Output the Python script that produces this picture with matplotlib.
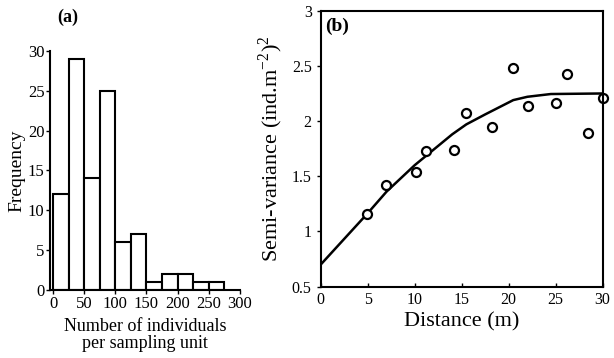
import numpy as np
import matplotlib.pyplot as plt

plt.rcParams['font.family'] = ['Liberation Serif', 'DejaVu Serif']
plt.rcParams['mathtext.fontset'] = 'custom'
plt.rcParams['mathtext.rm'] = 'Liberation Serif'

# (a) histogram: bins of 25 individuals
bin_left = [0, 25, 50, 75, 100, 125, 150, 175, 200, 225, 250]
freq = [12, 29, 14, 25, 6, 7, 1, 2, 2, 1, 1]
bin_width = 25

# (b) semivariogram points
dist = [4.9, 7.0, 10.1, 11.2, 14.2, 15.5, 18.2, 20.5, 22.1, 25.1, 26.2, 28.5, 30.0]
semivar = [1.16, 1.42, 1.54, 1.73, 1.74, 2.07, 1.95, 2.48, 2.14, 2.16, 2.43, 1.89, 2.21]

# fitted model line
fit_x = [0, 5, 7, 10, 12, 14, 15.5, 17.5, 20.5, 22, 24.5, 30]
fit_y = [0.70, 1.165, 1.36, 1.60, 1.74, 1.88, 1.97, 2.06, 2.19, 2.22, 2.245, 2.25]

fig = plt.figure(figsize=(6.14, 3.58), dpi=100)

ax1 = fig.add_axes([0.0814, 0.19, 0.309, 0.6676])
ax1.bar(bin_left, freq, width=bin_width, align='edge',
        color='white', edgecolor='black', linewidth=1.5)
ax1.set_xlim(-5, 300)
ax1.set_ylim(0, 30)
ax1.set_xticks([0, 50, 100, 150, 200, 250, 300])
ax1.set_yticks([0, 5, 10, 15, 20, 25, 30])
for s in ['top', 'right']:
    ax1.spines[s].set_visible(False)
for s in ['left', 'bottom']:
    ax1.spines[s].set_linewidth(1.5)
ax1.tick_params(axis='both', labelsize=12, length=3, width=1, pad=1)
ax1.set_ylabel('Frequency', fontsize=14, labelpad=2)
ax1.set_xlabel('Number of individuals\nper sampling unit', fontsize=13,
               labelpad=5, linespacing=1.0)
fig.text(0.111, 0.975, '(a)', fontsize=13, fontweight='bold', va='top', ha='center')

ax2 = fig.add_axes([0.5223, 0.1992, 0.459, 0.771])
ax2.plot(fit_x, fit_y, color='black', linewidth=1.8)
ax2.plot(dist, semivar, 'o', markerfacecolor='white', markeredgecolor='black',
         markersize=6.5, markeredgewidth=1.6, clip_on=False)
ax2.set_xlim(0, 30)
ax2.set_ylim(0.5, 3)
ax2.set_xticks([0, 5, 10, 15, 20, 25, 30])
ax2.set_yticks([0.5, 1, 1.5, 2, 2.5, 3])
ax2.set_yticklabels(['0.5', '1', '1.5', '2', '2.5', '3'])
for s in ax2.spines.values():
    s.set_linewidth(1.5)
ax2.tick_params(axis='y', labelsize=11.5, length=3, width=1, direction='out')
ax2.tick_params(axis='x', labelsize=11.5, length=3, width=1, direction='in', pad=4)
ax2.set_xlabel('Distance (m)', fontsize=16, labelpad=3)
ax2.set_ylabel(r'Semi-variance (ind.m$^{\mathregular{-2}}$)$^{\mathregular{2}}$',
               fontsize=16, labelpad=5)
ax2.text(0.015, 0.975, '(b)', transform=ax2.transAxes, fontsize=14,
         fontweight='bold', va='top', ha='left')

fig.savefig('out.png', dpi=100)
